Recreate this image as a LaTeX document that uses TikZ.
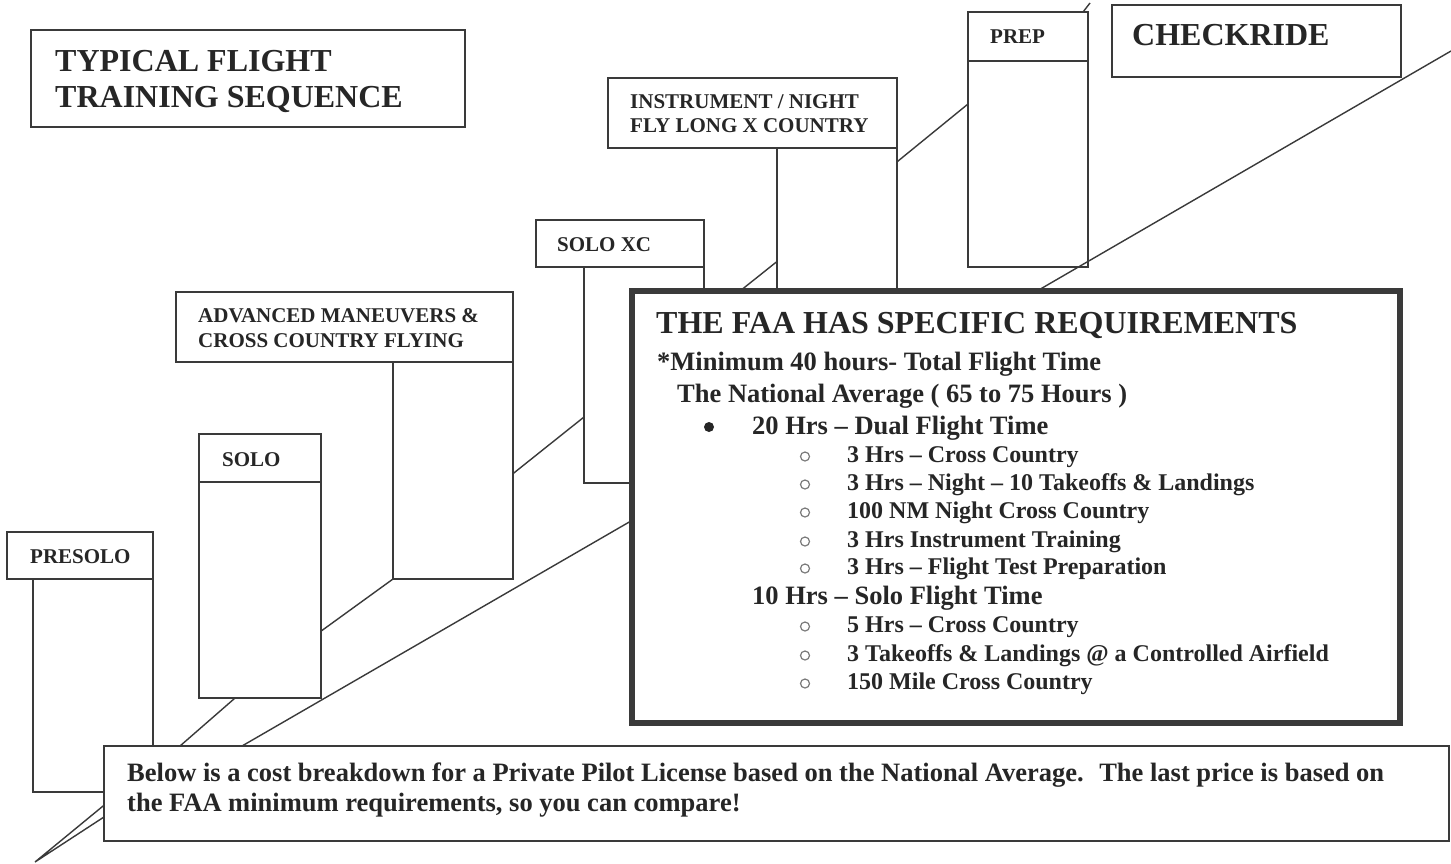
\documentclass[tikz,border=0pt]{standalone}
\usepackage{fontspec}
\setmainfont{Liberation Serif}
\usepackage{tikz}
\usepackage{color}

\definecolor{ink}{HTML}{262626}
\definecolor{edge}{HTML}{3A3A3A}
\definecolor{hollow}{HTML}{7A7A7A}
\newcommand{\bsz}[1]{\fontsize{#1}{#1}\selectfont\bfseries}

\tikzset{
  stepbox/.style={draw=edge, line width=1.8pt, fill=white, inner sep=0pt, outer sep=0pt, anchor=north west},
  heavybox/.style={stepbox, line width=5.5pt},
  txt/.style={anchor=base west, inner sep=0pt, text=ink},
  link/.style={draw=edge, line width=1.4pt}
}

\begin{document}
\begin{tikzpicture}[x=1pt,y=1pt]
              \useasboundingbox[fill=white] (0,0) rectangle (1451,-863);
              % title and checkride
              \node[stepbox, minimum width=434, minimum height=97] (title) at (31,-30) {};
              \node[txt, font=\bsz{32}] (titleA) at (55,-71) {TYPICAL FLIGHT};
              \node[txt, font=\bsz{32}] (titleB) at (55,-107) {TRAINING SEQUENCE};
              \node[stepbox, minimum width=289, minimum height=72] (check) at (1112,-5) {};
              \node[txt, font=\bsz{32}] (checkT) at (1132,-45) {CHECKRIDE};
              % the steps
              \node[stepbox, minimum width=120, minimum height=206] (prepBody) at (968,-61) {};
              \node[stepbox, minimum width=120, minimum height=49] (prepLab) at (968,-12) {};
              \node[txt, font=\bsz{21}] (prepT) at (990,-43) {PREP};
              \node[stepbox, minimum width=120, minimum height=152] (instrBody) at (777,-148) {};
              \node[stepbox, minimum width=289, minimum height=70] (instrLab) at (608,-78) {};
              \node[txt, font=\bsz{21}] (instrA) at (630,-108) {INSTRUMENT / NIGHT};
              \node[txt, font=\bsz{21}] (instrB) at (630,-132) {FLY LONG X COUNTRY};
              \node[stepbox, minimum width=120, minimum height=216] (soloxcBody) at (584,-267) {};
              \node[stepbox, minimum width=168, minimum height=47] (soloxcLab) at (536,-220) {};
              \node[txt, font=\bsz{21}] (soloxcT) at (557,-251) {SOLO XC};
              \node[stepbox, minimum width=120, minimum height=217] (advBody) at (393,-362) {};
              \node[stepbox, minimum width=337, minimum height=70] (advLab) at (176,-292) {};
              \node[txt, font=\bsz{21}] (advA) at (198,-322) {ADVANCED MANEUVERS \&};
              \node[txt, font=\bsz{21}] (advB) at (198,-347) {CROSS COUNTRY FLYING};
              \node[stepbox, minimum width=122, minimum height=216] (soloBody) at (199,-482) {};
              \node[stepbox, minimum width=122, minimum height=48] (soloLab) at (199,-434) {};
              \node[txt, font=\bsz{21}] (soloT) at (222,-466) {SOLO};
              \node[stepbox, minimum width=120, minimum height=213] (presoloBody) at (33,-579) {};
              \node[stepbox, minimum width=146, minimum height=47] (presoloLab) at (7,-532) {};
              \node[txt, font=\bsz{21}] (presoloT) at (30,-563) {PRESOLO};
              % ramp lines
              \coordinate (prepTop) at (1090,-3);
              \coordinate (rampTop) at (1451,-51);
              \draw[link] (prepLab.24.4) -- (prepTop);
              \draw[link] (prepBody.135.5) -- (instrBody.46.8);
              \draw[link] (rampTop) -- (1037,-291);
              \draw[link] (instrBody.212.3) -- (740,-291);
              \draw[link] (soloxcBody.215) -- (advBody.357.6);
              \draw[link] (advBody.south west) -- (soloBody.326.75);
              % requirements box
              \node[heavybox, minimum width=768, minimum height=432] (faa) at (632,-291) {};
              \node[txt, font=\bsz{32}] (faaT) at (656,-333) {THE FAA HAS SPECIFIC REQUIREMENTS};
              \node[txt, font=\bsz{26.5}] (reqA) at (657,-370) {*Minimum 40 hours- Total Flight Time};
              \node[txt, font=\bsz{26.5}] (reqB) at (677,-402) {The National Average ( 65 to 75 Hours )};
              \node[txt, font=\bsz{26.5}] (dualT) at (752,-434) {20 Hrs -- Dual Flight Time};
              \node[txt, font=\bsz{24}] (dualA) at (847,-462) {3 Hrs -- Cross Country};
              \node[txt, font=\bsz{24}] (dualB) at (847,-490) {3 Hrs -- Night -- 10 Takeoffs \& Landings};
              \node[txt, font=\bsz{24}] (dualC) at (847,-518) {100 NM Night Cross Country};
              \node[txt, font=\bsz{24}] (dualD) at (847,-547) {3 Hrs Instrument Training};
              \node[txt, font=\bsz{24}] (dualE) at (847,-574) {3 Hrs -- Flight Test Preparation};
              \node[txt, font=\bsz{26.5}] (soloHrs) at (752,-604) {10 Hrs -- Solo Flight Time};
              \node[txt, font=\bsz{24}] (soloA) at (847,-632) {5 Hrs -- Cross Country};
              \node[txt, font=\bsz{24}] (soloB) at (847,-661) {3 Takeoffs \& Landings @ a Controlled Airfield};
              \node[txt, font=\bsz{24}] (soloC) at (847,-689) {150 Mile Cross Country};
              \fill[ink] (709,-427) circle (5);
              \foreach \y in {462,490,518,547,574,632,661,689}
                \draw[hollow, line width=1.2pt] (805,{-\y+5.5}) circle (4.5);
              % cost note
              \coordinate (tip) at (35,-862);
              \draw[link] (faa.182.39) -- (242,-746);
              \draw[link] (soloBody.257.98) -- (180,-746);
              \node[stepbox, minimum width=1345, minimum height=95] (below) at (104,-746) {};
              \node[txt, font=\bsz{26.5}] (belowA) at (127,-781) {Below is a cost breakdown for a Private Pilot License based on the National Average.~ The last price is based on};
              \node[txt, font=\bsz{26.5}] (belowB) at (127,-811) {the FAA minimum requirements, so you can compare!};
              \draw[link] (below.181.06) -- (tip) -- (below.182.68);
            \end{tikzpicture}
\end{document}
